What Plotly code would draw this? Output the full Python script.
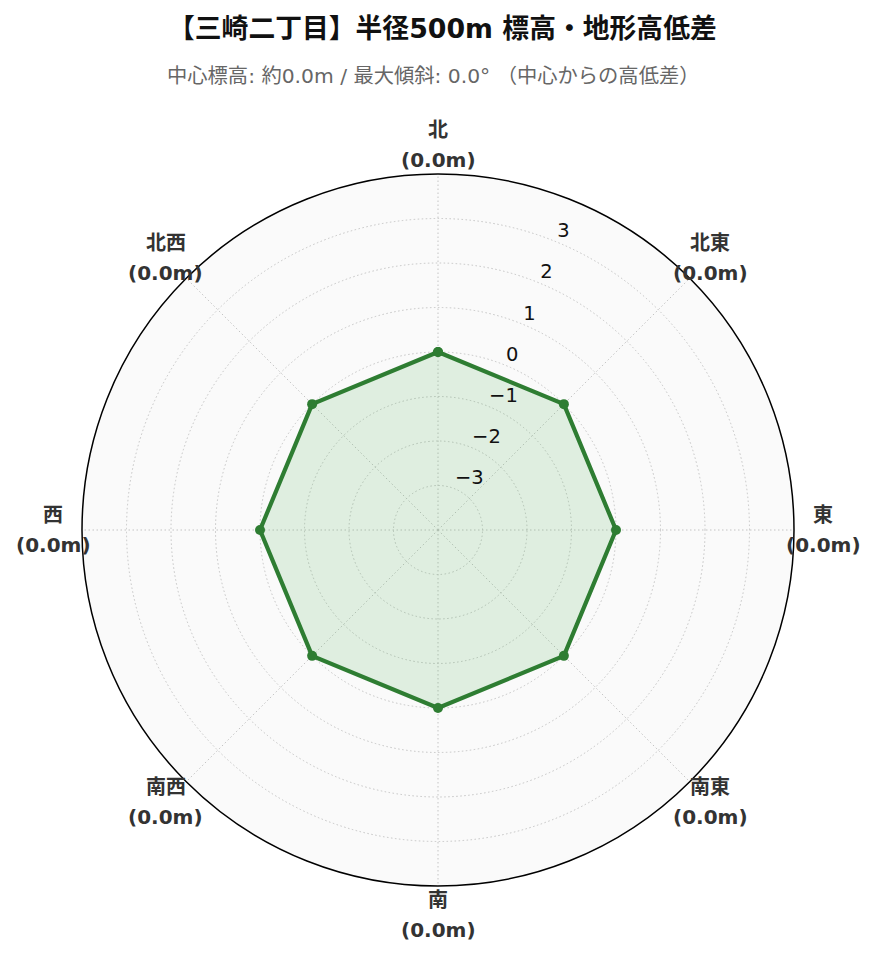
import numpy as np
import plotly.graph_objects as go

directions = ["北", "北東", "東", "南東", "南", "南西", "西", "北西"]
heights = [0.0, 0.0, 0.0, 0.0, 0.0, 0.0, 0.0, 0.0]
radial_ticks = [-3, -2, -1, 0, 1, 2, 3]
radial_tick_labels = ["−3", "−2", "−1", "0", "1", "2", "3"]
title_text = "【三崎二丁目】半径500m 標高・地形高低差"
subtitle_text = "中心標高: 約0.0m / 最大傾斜: 0.0° （中心からの高低差）"

W, H = 876, 962
OFF = 8  # page body margin in the browser
cx, cy, R = 438 - OFF, 530 - OFF, 356
angles = [i * 360 / len(directions) for i in range(len(directions))]

font_fam = "DejaVu Sans, Noto Sans CJK JP, sans-serif"

fig = go.Figure()
fig.add_trace(go.Scatterpolar(
    r=heights + heights[:1],
    theta=angles + angles[:1],
    mode="lines+markers",
    fill="toself",
    fillcolor="rgba(76,175,80,0.15)",
    line=dict(color="#2e7d32", width=4.2),
    marker=dict(color="#2e7d32", size=10),
    hoverinfo="skip",
))
fig.add_trace(go.Scatterpolar(
    r=radial_ticks,
    theta=[22.5] * len(radial_ticks),
    mode="text",
    text=radial_tick_labels,
    textposition="top right",
    textfont=dict(family=font_fam, size=19.5, color="#111111"),
    hoverinfo="skip",
))

annotations = []
LR = 385
for d, a, h in zip(directions, angles, heights):
    px = cx + LR * np.sin(np.radians(a))
    py = cy - LR * np.cos(np.radians(a))
    for txt, dy in ((d, -15), (f"({h:.1f}m)", 15)):
        annotations.append(dict(
            x=px / W, y=1 - (py + dy) / H, xref="paper", yref="paper",
            text=f"<b>{txt}</b>", showarrow=False,
            xanchor="center", yanchor="middle",
            font=dict(family=font_fam, size=20, color="#333333"),
        ))
annotations.append(dict(
    x=(442 - OFF) / W, y=1 - (28 - OFF) / H, xref="paper", yref="paper",
    text=f"<b>{title_text}</b>", showarrow=False,
    xanchor="center", yanchor="middle",
    font=dict(family=font_fam, size=26.8, color="#111111"),
))
annotations.append(dict(
    x=(433 - OFF) / W, y=1 - (76 - OFF) / H, xref="paper", yref="paper",
    text=subtitle_text, showarrow=False,
    xanchor="center", yanchor="middle",
    font=dict(family=font_fam, size=20.3, color="#666666"),
))

fig.update_layout(
    width=W, height=H,
    margin=dict(l=0, r=0, t=0, b=0),
    paper_bgcolor="white",
    showlegend=False,
    annotations=annotations,
    polar=dict(
        domain=dict(x=[(cx - R) / W, (cx + R) / W],
                    y=[(H - cy - R) / H, (H - cy + R) / H]),
        bgcolor="#fafafa",
        radialaxis=dict(
            range=[-4, 4], tickvals=radial_ticks, showticklabels=False,
            ticks="", showline=False,
            gridcolor="#c4c4c4", griddash="1.5px,2.5px", gridwidth=1.2,
        ),
        angularaxis=dict(
            direction="clockwise", rotation=90, thetaunit="degrees",
            tickvals=angles, showticklabels=False, ticks="",
            showline=True, linecolor="black", linewidth=1.5,
            gridcolor="#c4c4c4", griddash="1.5px,2.5px", gridwidth=1.2,
        ),
    ),
)

fig.write_html("out.html")
